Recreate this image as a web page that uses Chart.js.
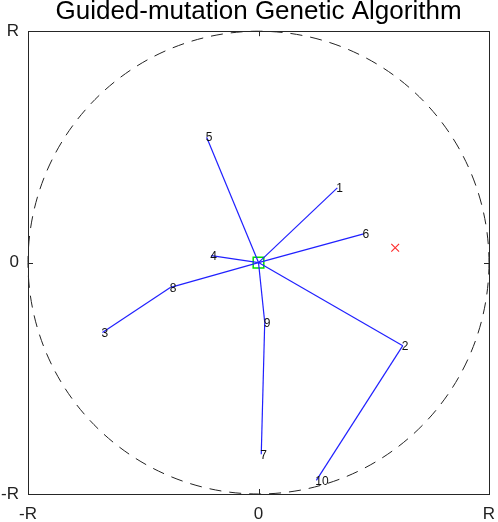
<!DOCTYPE html>
<html>
<head>
<meta charset="utf-8">
<script src="https://cdn.jsdelivr.net/npm/chart.js@4.4.1/dist/chart.umd.min.js"></script>
<style>
  html, body { margin: 0; padding: 0; background: #fff; }
  canvas { display: block; }
</style>
</head>
<body>
<canvas id="ga-chart" width="498" height="522"></canvas>
<script>
// positions in units of R
var nodeLabels = ["1", "2", "3", "4", "5", "6", "7", "8", "9", "10"];
var nodeX = [0.342, 0.626, -0.677, -0.205, -0.225, 0.456, 0.012, -0.381, 0.027, 0.251];
var nodeY = [0.323, -0.359, -0.302, 0.030, 0.542, 0.124, -0.828, -0.107, -0.258, -0.941];
// parent of each node (0 = root at centre)
var nodeParent = [0, 0, 8, 0, 0, 0, 9, 0, 0, 2];
var rootPoint = [0, 0];
var targetPoint = [0.593, 0.064];
var axisTicks = [-1, 0, 1];
var tickNames = ["-R", "0", "R"];

var canvas = document.getElementById("ga-chart");
var fontFamily = "'Liberation Sans', Arial, sans-serif";

function nodePos(id) {
    if (id === 0) return { x: rootPoint[0], y: rootPoint[1] };
    return { x: nodeX[id - 1], y: nodeY[id - 1] };
}

// one line dataset per edge
var datasets = [];
nodeParent.forEach(function (p, i) {
    datasets.push({
        data: [nodePos(p), nodePos(i + 1)],
        showLine: true,
        borderColor: "#2020ff",
        borderWidth: 1.2,
        pointRadius: 0
    });
});

datasets.push({
    data: [{ x: rootPoint[0], y: rootPoint[1] }],
    pointStyle: "rect",
    pointRadius: 7.5,
    pointBorderColor: "#00e000",
    pointBackgroundColor: "rgba(0,0,0,0)",
    pointBorderWidth: 1.5
});
datasets.push({
    data: [{ x: targetPoint[0], y: targetPoint[1] }],
    pointStyle: "crossRot",
    pointRadius: 5.5,
    pointBorderColor: "#ff3030",
    pointBorderWidth: 1.2
});

var decorations = {
    id: "decorations",
    beforeDatasetsDraw: function (chart) {
        var ctx = chart.ctx, xs = chart.scales.x, ys = chart.scales.y;
        var cx = xs.getPixelForValue(0), cy = ys.getPixelForValue(0);
        var rx = xs.getPixelForValue(1) - cx, ry = cy - ys.getPixelForValue(1);
        ctx.save();
        ctx.strokeStyle = "#222";
        ctx.lineWidth = 1;
        ctx.setLineDash([12, 8]);
        ctx.beginPath();
        ctx.ellipse(cx, cy, rx, ry, 0, 0, Math.PI * 2);
        ctx.stroke();
        ctx.restore();
    },
    afterDatasetsDraw: function (chart) {
        var ctx = chart.ctx, a = chart.chartArea;
        var xs = chart.scales.x, ys = chart.scales.y;
        ctx.save();
        ctx.fillStyle = "#111";
        ctx.font = "12px " + fontFamily;
        ctx.textAlign = "left";
        ctx.textBaseline = "middle";
        nodeLabels.forEach(function (t, i) {
            ctx.fillText(t, xs.getPixelForValue(nodeX[i]) - 1, ys.getPixelForValue(nodeY[i]) + 1);
        });
        // frame and inner ticks
        ctx.strokeStyle = "#262626";
        ctx.lineWidth = 1;
        ctx.strokeRect(Math.round(a.left) + 0.5, Math.round(a.top) + 0.5,
            Math.round(a.right - a.left), Math.round(a.bottom - a.top));
        var zx = Math.round(xs.getPixelForValue(0)) + 0.5;
        var zy = Math.round(ys.getPixelForValue(0)) + 0.5;
        ctx.beginPath();
        ctx.moveTo(zx, a.bottom); ctx.lineTo(zx, a.bottom - 5);
        ctx.moveTo(zx, a.top); ctx.lineTo(zx, a.top + 5);
        ctx.moveTo(a.left, zy); ctx.lineTo(a.left + 5, zy);
        ctx.moveTo(a.right, zy); ctx.lineTo(a.right - 5, zy);
        ctx.stroke();
        ctx.restore();
    }
};

function tickLabel(v) {
    var k = axisTicks.indexOf(v);
    return k >= 0 ? tickNames[k] : "";
}

new Chart(canvas, {
    type: "scatter",
    data: { datasets: datasets },
    plugins: [decorations],
    options: {
        responsive: false,
        animation: false,
        layout: { padding: { top: 0, right: 9, bottom: 0, left: 0 } },
        plugins: {
            legend: { display: false },
            tooltip: { enabled: false },
            title: {
                display: true,
                fullSize: false,
                text: "Guided-mutation Genetic Algorithm",
                color: "#000",
                font: { family: fontFamily, size: 26, weight: "normal" },
                padding: { top: -3.5, bottom: 3.5 }
            }
        },
        scales: {
            x: {
                type: "linear", min: -1, max: 1,
                afterBuildTicks: function (s) { s.ticks = axisTicks.map(function (v) { return { value: v }; }); },
                afterFit: function (s) { s.height = 28; s.paddingLeft = 0; s.paddingRight = 0; },
                grid: { display: false, drawTicks: false },
                border: { display: false },
                ticks: {
                    callback: tickLabel, maxRotation: 0, padding: 10, color: "#222",
                    font: { family: fontFamily, size: 17 }
                }
            },
            y: {
                type: "linear", min: -1, max: 1,
                afterBuildTicks: function (s) { s.ticks = axisTicks.map(function (v) { return { value: v }; }); },
                afterFit: function (s) { s.width = 28; s.paddingTop = 0; s.paddingBottom = 0; },
                grid: { display: false, drawTicks: false },
                border: { display: false },
                ticks: {
                    callback: tickLabel, padding: 9, color: "#222",
                    font: { family: fontFamily, size: 17 }
                }
            }
        }
    }
});
</script>
</body>
</html>
